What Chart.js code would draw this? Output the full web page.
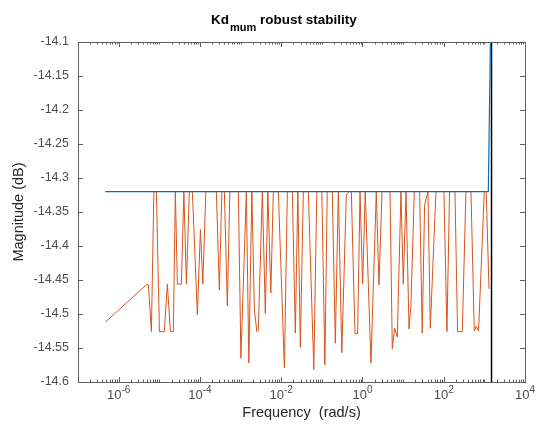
<!DOCTYPE html>
<html>
<head>
<meta charset="utf-8">
<script src="https://cdn.jsdelivr.net/npm/chart.js@4.4.1/dist/chart.umd.min.js"></script>
<style>
  html, body { margin: 0; padding: 0; background: #fff; }
</style>
</head>
<body>
<canvas id="bodeChart" width="538" height="428"></canvas>
<script>
// nominal (blue) curve
const nominalFreq = [4.7e-7, 1250, 1570];
const nominalMag = [-14.32, -14.32, -13.9];

// perturbed (orange) curve
const perturbFreq = [
  4.72e-7, 4.82e-6, 5.40e-6, 6.40e-6, 7.36e-6, 8.49e-6, 1.01e-5, 1.33e-5, 1.58e-5, 1.88e-5,
  2.22e-5, 2.49e-5, 2.79e-5, 3.50e-5, 4.03e-5, 4.65e-5, 5.50e-5, 6.52e-5, 8.65e-5, 1.03e-4,
  1.18e-4, 1.40e-4, 2.54e-4, 3.01e-4, 3.47e-4, 4.00e-4, 4.73e-4, 5.46e-4, 8.83e-4, 1.02e-3,
  1.39e-3, 1.60e-3, 1.90e-3, 2.19e-3, 2.52e-3, 2.74e-3, 3.44e-3, 4.07e-3, 4.70e-3, 5.56e-3,
  6.41e-3, 8.51e-3, 1.20e-2, 1.42e-2, 1.88e-2, 2.23e-2, 2.57e-2, 2.96e-2, 3.51e-2, 4.66e-2,
  6.35e-2, 7.53e-2, 0.100, 0.119, 0.136, 0.181, 0.215, 0.255, 0.310, 0.401,
  0.475, 0.532, 0.656, 0.760, 0.871, 1.01, 1.17, 1.62, 2.19, 2.55,
  3.03, 4.76, 5.42, 6.18, 7.20, 8.87, 10.1, 11.8, 14.0, 15.6,
  18.9, 25.5, 29.6, 33.8, 41.0, 46.7, 64.4, 101, 120, 139,
  189, 219, 286, 352, 468, 565, 632, 720, 995, 1110,
  1300
];
const perturbMag = [
  -14.512, -14.457, -14.457, -14.526, -14.32, -14.32, -14.526, -14.526, -14.456, -14.526,
  -14.526, -14.32, -14.456, -14.456, -14.32, -14.456, -14.32, -14.32, -14.501, -14.376,
  -14.456, -14.32, -14.32, -14.465, -14.32, -14.32, -14.488, -14.32, -14.32, -14.565,
  -14.32, -14.572, -14.32, -14.494, -14.526, -14.524, -14.32, -14.499, -14.32, -14.469,
  -14.32, -14.32, -14.579, -14.32, -14.32, -14.528, -14.32, -14.549, -14.32, -14.32,
  -14.582, -14.32, -14.32, -14.575, -14.32, -14.32, -14.543, -14.32, -14.557, -14.325,
  -14.32, -14.32, -14.529, -14.529, -14.32, -14.456, -14.32, -14.572, -14.32, -14.457,
  -14.32, -14.32, -14.551, -14.521, -14.534, -14.32, -14.456, -14.32, -14.522, -14.487,
  -14.32, -14.32, -14.528, -14.34, -14.32, -14.521, -14.32, -14.32, -14.526, -14.32,
  -14.32, -14.526, -14.526, -14.32, -14.32, -14.525, -14.518, -14.525, -14.32, -14.32,
  -14.463
];

// vertical marker
const markerFreq = 1500;
const markerMag = [-14.6, -14.1];

const yTickValues = [-14.6, -14.55, -14.5, -14.45, -14.4, -14.35, -14.3, -14.25, -14.2, -14.15, -14.1];
const xLabelExps = [-6, -4, -2, 0, 2, 4];

const FONT = "'Liberation Sans', Arial, sans-serif";
const axisGrey = "#5e5e5e";
const labelGrey = "#4d4d4d";

// box, inward ticks, superscript labels and title (MATLAB look)
const axesDecor = {
  id: "axesDecor",
  afterDraw(chart) {
    const ctx = chart.ctx;
    const a = chart.chartArea;
    const xs = chart.scales.x;
    const ys = chart.scales.y;
    ctx.save();
    ctx.strokeStyle = axisGrey;
    ctx.lineWidth = 1;
    ctx.strokeRect(a.left + 0.5, a.top + 0.5, a.right - a.left, a.bottom - a.top);

    ctx.beginPath();
    for (let e = -7; e < 4; e++) {
      for (let m = 1; m < 10; m++) {
        const v = m * Math.pow(10, e);
        const px = Math.round(xs.getPixelForValue(v)) + 0.5;
        const len = (m === 1 && xLabelExps.includes(e)) ? 5 : 2.5;
        ctx.moveTo(px, a.bottom);
        ctx.lineTo(px, a.bottom - len);
        ctx.moveTo(px, a.top);
        ctx.lineTo(px, a.top + len);
      }
    }
    yTickValues.forEach(v => {
      const py = Math.round(ys.getPixelForValue(v)) + 0.5;
      ctx.moveTo(a.left, py);
      ctx.lineTo(a.left + 5, py);
      ctx.moveTo(a.right, py);
      ctx.lineTo(a.right - 5, py);
    });
    ctx.stroke();

    // x tick labels 10^n
    ctx.fillStyle = labelGrey;
    ctx.textBaseline = "alphabetic";
    ctx.textAlign = "left";
    xLabelExps.forEach(e => {
      const px = xs.getPixelForValue(Math.pow(10, e));
      const expStr = e < 0 ? "-" + (-e) : String(e);
      ctx.font = "13px " + FONT;
      const wb = ctx.measureText("10").width;
      ctx.font = "10px " + FONT;
      const we = ctx.measureText(expStr).width;
      const x0 = px - (wb + we) / 2;
      ctx.font = "13px " + FONT;
      ctx.fillText("10", x0, 399);
      ctx.font = "10px " + FONT;
      ctx.fillText(expStr, x0 + wb, 393);
    });

    // title with subscript
    ctx.fillStyle = "#000";
    let tx = 211;
    ctx.font = "bold 13.5px " + FONT;
    ctx.fillText("Kd", tx, 23.5);
    tx += ctx.measureText("Kd").width + 1;
    ctx.font = "bold 11px " + FONT;
    ctx.fillText("mum", tx, 31);
    tx += ctx.measureText("mum").width;
    ctx.font = "bold 13.5px " + FONT;
    ctx.fillText(" robust stability", tx, 23.5);
    ctx.restore();
  }
};

new Chart(document.getElementById("bodeChart").getContext("2d"), {
  type: "line",
  data: {
    datasets: [
      {
        label: "nominal",
        data: nominalFreq.map((f, i) => ({ x: f, y: nominalMag[i] })),
        borderColor: "#0072BD",
        borderWidth: 1.2
      },
      {
        label: "perturbed",
        data: perturbFreq.map((f, i) => ({ x: f, y: perturbMag[i] })),
        borderColor: "#D95319",
        borderWidth: 1
      },
      {
        label: "marker",
        data: markerMag.map(m => ({ x: markerFreq, y: m })),
        borderColor: "#000",
        borderWidth: 1.5
      }
    ]
  },
  options: {
    responsive: false,
    maintainAspectRatio: false,
    animation: false,
    devicePixelRatio: 1,
    layout: { padding: { top: 42, right: 13, left: 0, bottom: 0 } },
    elements: { point: { radius: 0 }, line: { tension: 0 } },
    plugins: { legend: { display: false }, tooltip: { enabled: false } },
    scales: {
      x: {
        type: "logarithmic",
        min: 1e-7,
        max: 1e4,
        ticks: { display: false },
        grid: { display: false, drawTicks: false },
        border: { display: false },
        title: {
          display: true,
          text: "Frequency  (rad/s)",
          color: "#262626",
          font: { family: FONT, size: 14.5 },
          padding: { top: 0, bottom: 6 }
        },
        afterFit: s => { s.height = 46; }
      },
      y: {
        min: -14.6,
        max: -14.1,
        afterBuildTicks: s => { s.ticks = yTickValues.map(v => ({ value: v })); },
        ticks: {
          color: labelGrey,
          padding: 9,
          font: { family: FONT, size: 12.5 },
          callback: v => String(Number(v.toFixed(2)))
        },
        grid: { display: false, drawTicks: false },
        border: { display: false },
        title: {
          display: true,
          text: "Magnitude (dB)",
          color: "#262626",
          font: { family: FONT, size: 14.5 },
          padding: { top: 10, bottom: 0 }
        },
        afterFit: s => { s.width = 78; }
      }
    }
  },
  plugins: [axesDecor]
});
</script>
</body>
</html>
